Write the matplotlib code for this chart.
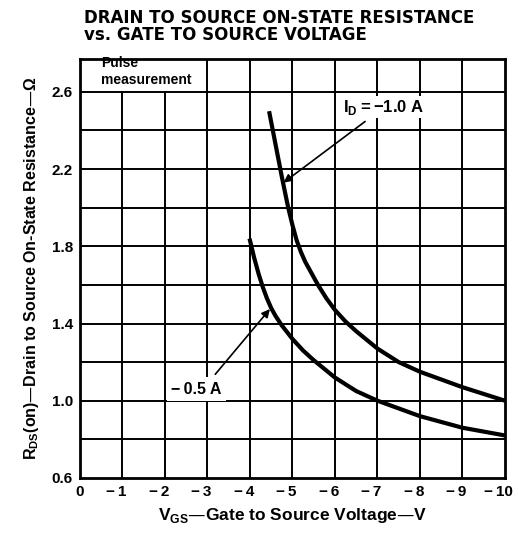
import matplotlib.pyplot as plt
from matplotlib.patches import Rectangle
from matplotlib.transforms import ScaledTranslation

# Curves
vgs_1a = [-4.45, -4.6, -4.75, -4.9, -5.0, -5.1, -5.2, -5.3, -5.45, -5.6,
          -5.8, -6.0, -6.25, -6.5, -7.0, -7.5, -8.0, -8.5, -9.0, -9.5, -10.0]
rds_1a = [2.50, 2.33, 2.16, 2.00, 1.91, 1.83, 1.77, 1.72, 1.66, 1.60,
          1.53, 1.47, 1.41, 1.36, 1.27, 1.20, 1.15, 1.11, 1.07, 1.035, 1.00]

vgs_05a = [-3.99, -4.1, -4.2, -4.3, -4.4, -4.5, -4.6, -4.75, -5.0, -5.25,
           -5.5, -6.0, -6.5, -7.0, -7.5, -8.0, -8.5, -9.0, -9.5, -10.0]
rds_05a = [1.84, 1.74, 1.66, 1.59, 1.53, 1.48, 1.44, 1.39, 1.32, 1.26,
           1.21, 1.12, 1.05, 1.00, 0.96, 0.92, 0.89, 0.86, 0.84, 0.82]

x_ticks = [0, -1, -2, -3, -4, -5, -6, -7, -8, -9, -10]
x_ticklabels = ['0'] + ['\u2212\u2009' + str(-v) for v in x_ticks[1:]]
y_ticks = [0.6, 1.0, 1.4, 1.8, 2.2, 2.6]
y_grid = [0.8, 1.0, 1.2, 1.4, 1.6, 1.8, 2.0, 2.2, 2.4, 2.6]

plt.rcParams['font.family'] = ['Liberation Sans', 'DejaVu Sans']

fig = plt.figure(figsize=(5.19, 5.37), dpi=100)
ax = fig.add_axes([0.154, 0.110, 0.819, 0.780])
ax.set_xlim(0, -10)
ax.set_ylim(0.6, 2.77)

# grid
for v in x_ticks[1:-1]:
    ax.axvline(v, color='black', lw=1.4, zorder=1)
for v in y_grid:
    ax.axhline(v, color='black', lw=1.4, zorder=1)

# white box behind the "Pulse measurement" note
ax.add_patch(Rectangle((0, 2.607), -2.97, 0.2, facecolor='white',
                       edgecolor='none', zorder=1.5))
ax.text(-0.5, 2.785, 'Pulse\nmeasurement', fontsize=10, fontweight='bold',
        ha='left', va='top', linespacing=1.3, zorder=2)

ax.plot(vgs_1a, rds_1a, color='black', lw=3.0, zorder=3,
        solid_capstyle='butt', solid_joinstyle='round')
ax.plot(vgs_05a, rds_05a, color='black', lw=3.0, zorder=3,
        solid_capstyle='butt', solid_joinstyle='round')

# curve labels with arrows
ax.annotate('I$_\\mathregular{D}$\u2009=\u2009\u22121.0 A', xy=(-4.79, 2.13),
            xytext=(-6.2, 2.52), fontsize=12, fontweight='bold',
            ha='left', va='center',
            bbox=dict(facecolor='white', edgecolor='none', pad=1.0),
            arrowprops=dict(arrowstyle='-|>', color='black', lw=1.2,
                            shrinkA=4, shrinkB=0, mutation_scale=12),
            zorder=4)
ax.annotate('\u2212\u20090.5 A', xy=(-4.47, 1.475), xytext=(-2.15, 1.06),
            fontsize=11.5, fontweight='bold', ha='left', va='center',
            bbox=dict(facecolor='white', edgecolor='none', pad=3.0),
            arrowprops=dict(arrowstyle='-|>', color='black', lw=1.2,
                            shrinkA=3, shrinkB=0, mutation_scale=12,
                            relpos=(0.75, 1.0)),
            zorder=4)

ax.set_xticks(x_ticks)
ax.set_xticklabels(x_ticklabels, fontsize=11, fontweight='bold')
ax.set_yticks(y_ticks)
ax.set_yticklabels([f'{v:.1f}' for v in y_ticks], fontsize=11,
                   fontweight='bold')
ax.tick_params(length=0, pad=5)

# nudge the negative labels left so the digits sit under the grid lines
shift = ScaledTranslation(-4.5 / 72, 0, fig.dpi_scale_trans)
for lbl in ax.xaxis.get_majorticklabels()[1:]:
    lbl.set_transform(lbl.get_transform() + shift)

for s in ax.spines.values():
    s.set_linewidth(2.0)
    s.set_zorder(5)

ax.set_xlabel('V$_\\mathregular{GS}$\u2014Gate to Source Voltage\u2014V',
              fontsize=12.5, fontweight='bold', labelpad=5)
ax.set_ylabel('R$_\\mathregular{DS}$(on)\u2014Drain to Source On-State '
              'Resistance\u2014\u03a9', fontsize=11.5, fontweight='bold',
              labelpad=8)

fig.text(0.162, 0.983, 'DRAIN TO SOURCE ON-STATE RESISTANCE\n'
         'vs. GATE TO SOURCE VOLTAGE', fontsize=12, fontweight='bold',
         family=['DejaVu Sans'], ha='left', va='top', linespacing=0.9)

fig.savefig('out.png', dpi=100)
